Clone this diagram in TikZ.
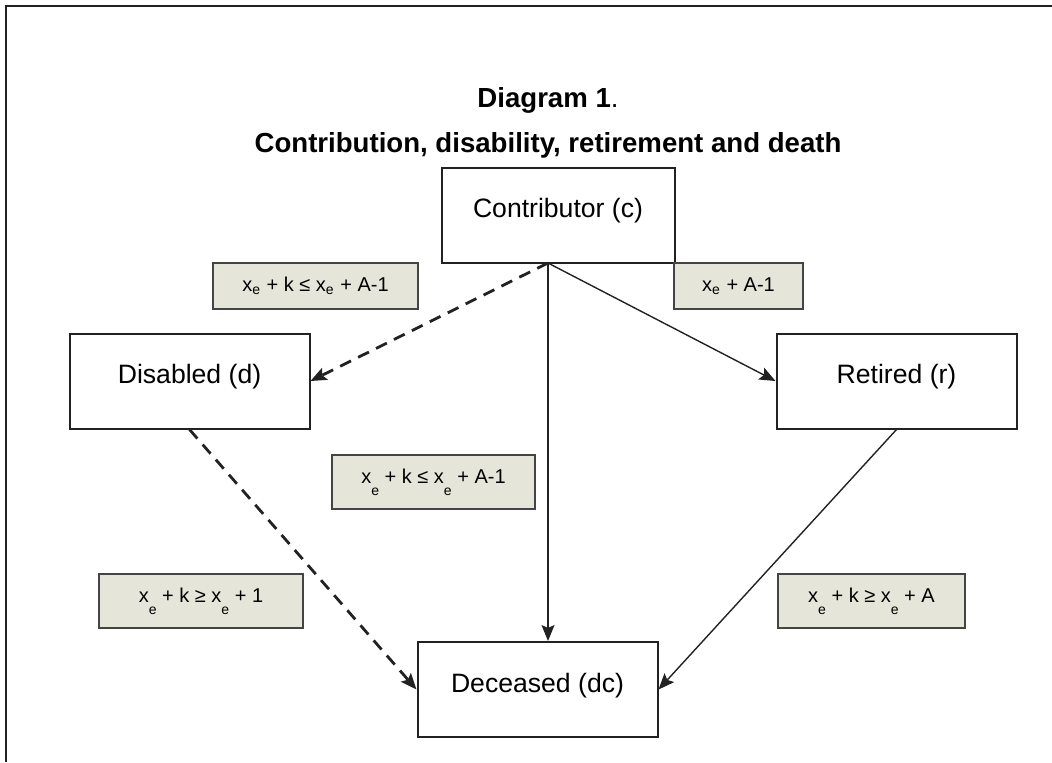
\documentclass[tikz,border=0pt]{standalone}
\usepackage{fontspec}
\setmainfont{Liberation Sans}
\usepackage{tikz}
\usetikzlibrary{arrows.meta}

\newcommand{\lowsub}[1]{\raisebox{-1.1ex}{\fontsize{7pt}{8pt}\selectfont #1}}
\definecolor{labelfill}{HTML}{E6E5DA}
\definecolor{labeldraw}{HTML}{444444}
\definecolor{boxdraw}{HTML}{222222}

\begin{document}
\begin{tikzpicture}[x=0.5pt,y=-0.5pt,
        state/.style={draw=boxdraw,line width=1pt,minimum width=120pt,minimum height=47.5pt,
            inner sep=0pt,text depth=7pt,font=\fontsize{13.3pt}{16pt}\selectfont},
        cond/.style={draw=labeldraw,fill=labelfill,line width=0.7pt,minimum height=#1,
            inner sep=0pt,font=\fontsize{10pt}{12pt}\selectfont},
        heading/.style={font=\fontsize{13.8pt}{16pt}\selectfont\bfseries},
        flow/.style={-{Stealth[length=8pt,width=6.5pt,inset=1.5pt]},line width=0.7pt,draw=boxdraw},
        dashflow/.style={flow,line width=1.4pt,dash pattern=on 6pt off 4pt}]
                \useasboundingbox (0,0) rectangle (1052,762);
                \draw[line width=1pt,draw=boxdraw] (1052,6) -- (6,6) -- (6,762);

                \node[heading] (head) at (548,100) {Diagram 1\textmd{.}};
                \node[heading] (subhead) at (548,145) {Contribution, disability, retirement and death};

                \node[state,minimum width=116.5pt] (contrib) at (558,215) {Contributor (c)};
                \node[state] (disabled) at (189.5,381) {Disabled (d)};
                \node[state] (retired) at (896.5,381) {Retired (r)};
                \node[state] (deceased) at (537.5,689.5) {Deceased (dc)};
                \coordinate (fork) at (548,263);

                \node[cond=23pt,minimum width=102.5pt] (lbl1) at (315.5,286)
                    {x\textsubscript{e} + k ≤ x\textsubscript{e} + A-1};
                \node[cond=23pt,minimum width=64.5pt] (lbl2) at (738.5,286)
                    {x\textsubscript{e} + A-1};
                \node[cond=27pt,minimum width=101.5pt] (lbl3) at (433.5,482)
                    {x\lowsub{e} + k ≤ x\lowsub{e} + A-1};
                \node[cond=27pt,minimum width=102pt] (lbl4) at (201,601)
                    {x\lowsub{e} + k ≥ x\lowsub{e} + 1};
                \node[cond=27pt,minimum width=93.5pt] (lbl5) at (871.5,601)
                    {x\lowsub{e} + k ≥ x\lowsub{e} + A};

                \draw[dashflow] (fork) -- (disabled.east);
                \draw[flow] (fork) -- (retired.west);
                \draw[flow] (fork) -- (fork |- deceased.north);
                \draw[dashflow] (disabled.south) -- (deceased.west);
                \draw[flow] (retired.south) -- (deceased.east);
            \end{tikzpicture}
\end{document}
